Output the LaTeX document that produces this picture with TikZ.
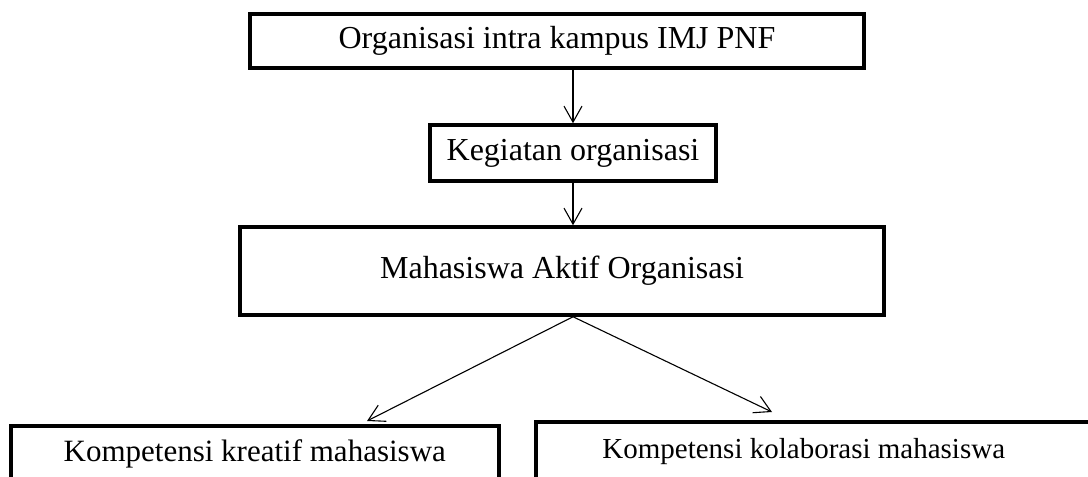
\documentclass[tikz,border=0pt]{standalone}
\usepackage{fontspec}
\setmainfont{Liberation Serif}
\usetikzlibrary{arrows.meta}
\begin{document}
\begin{tikzpicture}[x=1pt,y=-1pt,
  box/.style={draw, line width=3.5pt, rectangle, inner sep=0pt, text=black,
    font=\fontsize{32}{38}\selectfont},
  arr/.style={line width=1.1pt, -{Straight Barb[length=16pt,width=18pt,line width=1.1pt]}},
]
\useasboundingbox (0,0) rectangle (1088,477);
\clip (0,0) rectangle (1088,477);
\node[box, minimum width=614pt, minimum height=54pt] (b1) at (557,41) {Organisasi intra kampus IMJ PNF};
\node[box, minimum width=286pt, minimum height=56pt] (b2) at (573,153) {Kegiatan organisasi};
\node[box, minimum width=644pt, minimum height=88pt] (b3) at (562,271) {Mahasiswa Aktif Organisasi};
\node[box, anchor=north west, minimum width=488pt, text height=36pt, text depth=58pt,
  font=\fontsize{31}{36}\selectfont] (b4) at (9,424) {Kompetensi kreatif mahasiswa};
\node[box, anchor=north west, minimum width=564pt, text height=37pt, text depth=57pt,
  font=\fontsize{29}{34}\selectfont] (b5) at (534,420) {Kompetensi kolaborasi mahasiswa\hspace*{28pt}};
\draw[arr] (b2.north |- b1.south) -- (b2.north);
\draw[arr] (b2.south) -- (b2.south |- b3.north);
\coordinate (apex) at (b3.south -| b2.south);
\coordinate (tL) at (367,421);
\coordinate (tR) at (772,412);
\draw[arr] (apex) -- (tL);
\draw[arr] (apex) -- (tR);
\end{tikzpicture}
\end{document}
